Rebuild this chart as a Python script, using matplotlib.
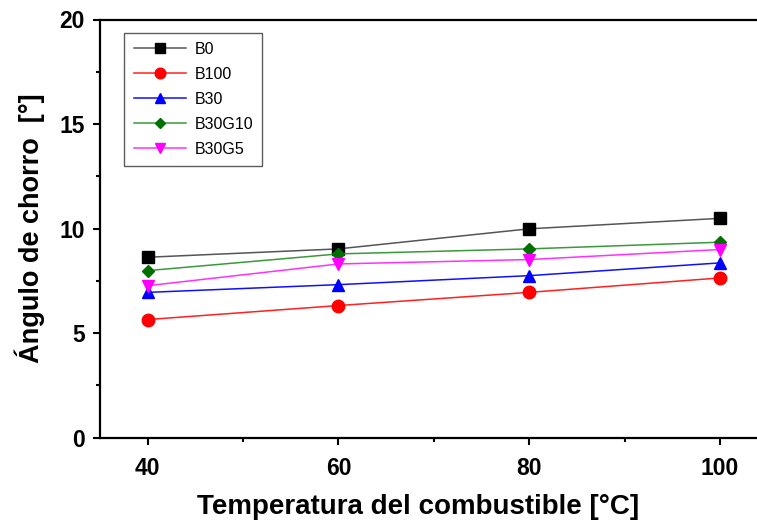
import matplotlib
matplotlib.use("Agg")
import matplotlib.pyplot as plt
from matplotlib.ticker import MultipleLocator

temps = [40, 60, 80, 100]
b0 = [8.63, 9.03, 9.99, 10.49]
b100 = [5.65, 6.32, 6.95, 7.64]
b30 = [6.95, 7.32, 7.75, 8.36]
b30g10 = [7.99, 8.79, 9.03, 9.35]
b30g5 = [7.27, 8.31, 8.52, 9.0]

series_names = ["B0", "B100", "B30", "B30G10", "B30G5"]
series_vals = [b0, b100, b30, b30g10, b30g5]
line_colors = ["#555555", "#ff2020", "#1010ff", "#3a9a3a", "#ff30ff"]
marker_colors = ["#000000", "#ff0000", "#0000ff", "#007000", "#ff00ff"]
markers = ["s", "o", "^", "D", "v"]
msizes = [9, 9, 8.5, 6.5, 8.5]

plt.rcParams['font.family'] = ['Liberation Sans', 'DejaVu Sans']

fig = plt.figure(figsize=(7.57, 5.23), dpi=100)
ax = fig.add_axes([100/757, 85.3/523, 667.6/757, 418.2/523])

for name, vals, lc, mc, mk, ms in zip(series_names, series_vals, line_colors,
                                       marker_colors, markers, msizes):
    ax.plot(temps, vals, color=lc, linewidth=1.1, marker=mk, markersize=ms,
            markerfacecolor=mc, markeredgecolor=mc, label=name)

ax.set_xlim(35, 105)
ax.set_ylim(0, 20)
ax.xaxis.set_major_locator(MultipleLocator(20))
ax.xaxis.set_minor_locator(MultipleLocator(10))
ax.yaxis.set_major_locator(MultipleLocator(5))
ax.yaxis.set_minor_locator(MultipleLocator(2.5))
ax.set_xticks([40, 60, 80, 100])

for s in ax.spines.values():
    s.set_linewidth(1.6)

ax.tick_params(axis='both', which='major', direction='out', length=5, width=1.5,
               labelsize=16.5)
ax.tick_params(axis='both', which='minor', direction='out', length=3, width=1.5)
ax.tick_params(axis='x', which='major', pad=9)
ax.tick_params(axis='y', which='major', pad=6)
for lab in ax.get_xticklabels() + ax.get_yticklabels():
    lab.set_fontweight('bold')

ax.set_xlabel("Temperatura del combustible [°C]", fontsize=20, fontweight='bold')
ax.xaxis.set_label_coords((418 - 100) / 667.6, -(507 - 437.7) / 418.2)
ax.xaxis.label.set_va('center')
ax.set_ylabel("Ángulo de chorro  [°]", fontsize=19.5, fontweight='bold', labelpad=10)

leg = ax.legend(loc='upper left', bbox_to_anchor=(24/667.6, 1 - 13/418.2),
                fontsize=11.5, frameon=True, fancybox=False, edgecolor='#333333',
                handlelength=3.3, borderpad=0.6, labelspacing=0.62,
                handletextpad=0.5, borderaxespad=0, markerscale=0.85)
leg.get_frame().set_linewidth(1.0)

fig.savefig("out.png", dpi=100)
